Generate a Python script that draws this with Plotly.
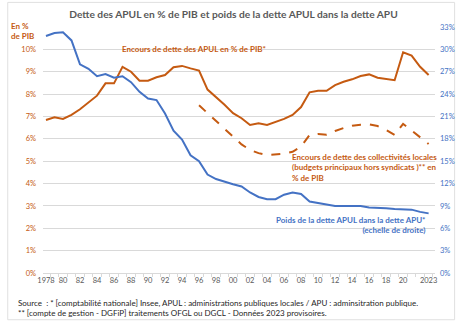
import plotly.graph_objects as go

years = list(range(1978, 2024))

# Encours de dette des APUL en % de PIB* (left axis)
apul_pib = [6.84, 6.96, 6.89, 7.07, 7.32, 7.63, 7.93, 8.48, 8.48, 9.22,
            9.00, 8.60, 8.60, 8.75, 8.85, 9.20, 9.26, 9.15, 9.05, 8.20,
            7.88, 7.52, 7.15, 6.92, 6.62, 6.70, 6.62, 6.74, 6.89, 7.07,
            7.42, 8.08, 8.15, 8.15, 8.40, 8.55, 8.66, 8.81, 8.88, 8.73,
            8.69, 8.62, 9.87, 9.72, 9.22, 8.85]

# Encours de dette des collectivités locales (budgets principaux)** en % de PIB (left axis)
coll_pib = [None] * 18 + [7.50, 7.15, 6.80, 6.45, 6.10, 5.75, 5.50, 5.36, 5.28, 5.30,
                          5.33, 5.42, 5.65, 6.17, 6.22, 6.18, 6.35, 6.48, 6.58, 6.63,
                          6.65, 6.57, 6.40, 6.17, 6.67, 6.37, 6.05, 5.77]

# Poids de la dette APUL dans la dette APU* (right axis)
poids_apul = [31.8, 32.2, 32.3, 31.2, 28.0, 27.4, 26.4, 26.7, 26.2, 26.4,
              25.6, 24.3, 23.4, 23.2, 21.4, 19.1, 17.9, 15.8, 15.0, 13.2,
              12.6, 12.2, 11.9, 11.6, 10.8, 10.2, 9.9, 9.9, 10.5, 10.8,
              10.6, 9.6, 9.4, 9.1, 9.0, 9.0, 9.0, 9.0, 8.8, 8.8,
              8.7, 8.6, 8.5, 8.5, 8.2, 8.0]

x_tickvals = list(range(1978, 2021, 2)) + [2023]
x_ticktext = ["1978"] + [f"{y % 100:02d}" for y in range(1980, 2021, 2)] + ["2023"]
left_ticks = list(range(0, 11))
right_ticks = list(range(0, 34, 3))

ORANGE = "#C55A11"
BLUE = "#4472C4"
FONT = "Lato"

fig = go.Figure()
fig.add_trace(go.Scatter(x=years, y=apul_pib, mode="lines",
                         line=dict(color=ORANGE, width=2), yaxis="y"))
fig.add_trace(go.Scatter(x=years, y=coll_pib, mode="lines",
                         line=dict(color=ORANGE, width=2, dash="dash"), yaxis="y"))
fig.add_trace(go.Scatter(x=years, y=poids_apul, mode="lines",
                         line=dict(color=BLUE, width=2), yaxis="y2"))

fig.update_layout(
    width=467, height=321,
    margin=dict(l=43, r=24, t=27, b=48),
    paper_bgcolor="white", plot_bgcolor="white",
    showlegend=False,
    font=dict(family=FONT, size=8, color="#595959"),
    title=dict(text="<b>Dette des APUL en % de PIB et poids de la dette APUL dans la dette APU</b>",
               x=0.5, xanchor="center", y=0.955, yanchor="middle",
               font=dict(family=FONT, size=10.2, color="#595959")),
    xaxis=dict(range=[1977.65, 2023.75], tickvals=x_tickvals, ticktext=x_ticktext,
               showgrid=False, zeroline=False, showline=True, linecolor="#D9D9D9",
               ticks="", tickfont=dict(size=7.5, color="#595959"),
               minor=dict(tick0=1977.5, dtick=1, ticks="outside", ticklen=3,
                          tickcolor="#D9D9D9", showgrid=False)),
    yaxis=dict(range=[0, 11], tickvals=left_ticks,
               ticktext=[f"{v}%" for v in left_ticks],
               showgrid=False, zeroline=False, ticks="", ticklabelstandoff=6,
               tickfont=dict(size=7.5, color=ORANGE)),
    yaxis2=dict(range=[0, 33], tickvals=right_ticks,
                ticktext=[f"{v}%" for v in right_ticks],
                overlaying="y", side="right", showgrid=True, gridcolor="#D9D9D9",
                gridwidth=1, zeroline=False, ticks="", ticklabelstandoff=4,
                tickfont=dict(size=7.5, color=BLUE)),
)

fig.add_annotation(text="<b>En %<br>de PIB</b>", xref="paper", yref="paper",
                   x=-0.088, y=0.982, xanchor="left", yanchor="middle", align="left",
                   showarrow=False, font=dict(size=8, color=ORANGE))
fig.add_annotation(text="<b>Encours de dette des APUL en % de PIB*</b>", x=1986.75, y=10.0,
                   xanchor="left", yanchor="middle", showarrow=False,
                   font=dict(size=8, color=ORANGE))
fig.add_annotation(text="<b>Encours de dette des collectivités locales<br>(budgets principaux hors syndicats )** en<br>% de PIB</b>",
                   x=2006.7, y=5.48, xanchor="left", yanchor="top", align="left",
                   showarrow=False, font=dict(size=8, color=ORANGE))
fig.add_annotation(text="<b>Poids de la dette APUL dans la dette APU*<br>(echelle de droite)</b>",
                   x=2022.8, y=2.13, xanchor="right", yanchor="middle", align="right",
                   showarrow=False, font=dict(size=8, color=BLUE))
fig.add_annotation(text="Source  : * [comptabilité nationale] Insee, APUL : administrations publiques locales / APU : adminsitration publique.<br>** [compte de gestion - DGFiP] traitements OFGL ou DGCL - Données 2023 provisoires.",
                   xref="paper", yref="paper", x=-0.07, y=-0.095,
                   xanchor="left", yanchor="top", align="left",
                   showarrow=False, font=dict(size=8, color="#262626"))

fig.add_shape(type="rect", xref="paper", yref="paper", x0=-0.09, x1=1.05, y0=-0.19, y1=1.1,
              line=dict(color="#E0E0E0", width=1), layer="below")

fig.write_html("out.html")
